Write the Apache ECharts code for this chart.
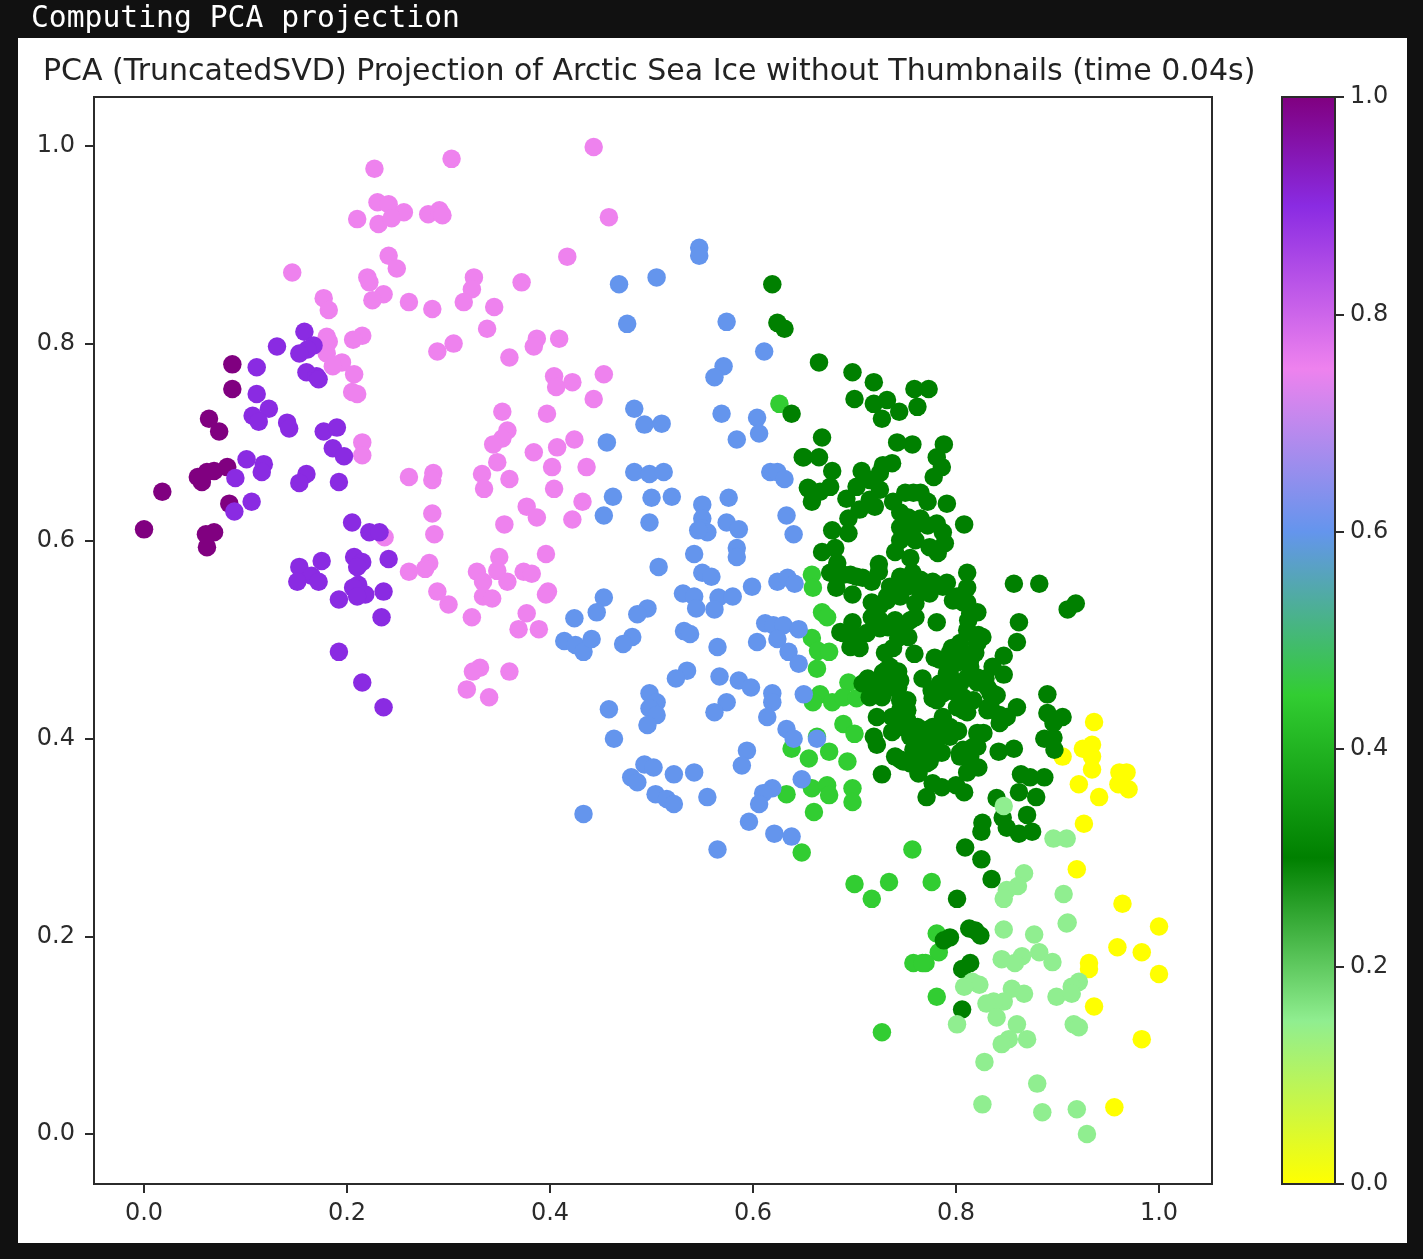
<!DOCTYPE html>
<html>
<head>
<meta charset="utf-8">
<title>PCA Projection</title>
<script src="https://cdn.jsdelivr.net/npm/echarts@6/dist/echarts.min.js"></script>
<style>
html,body{margin:0;padding:0;background:#111111;width:1423px;height:1259px;overflow:hidden}
#panel{position:absolute;left:18px;top:38px;width:1389px;height:1205px;background:#ffffff}
#chart{position:absolute;left:0;top:0;width:1423px;height:1259px;filter:blur(0.6px)}
</style>
</head>
<body>
<div id="panel"></div>
<div id="chart"></div>
<script>
const headerText = "Computing PCA projection";
const titleText = "PCA (TruncatedSVD) Projection of Arctic Sea Ice without Thumbnails (time 0.04s)";
const xTicks = [0,0.2,0.4,0.6,0.8,1.0];
const yTicks = [0,0.2,0.4,0.6,0.8,1.0];
const colorStops = [[0,"#ffff00"],[0.15,"#90ee90"],[0.3,"#008000"],[0.45,"#32cd32"],[0.6,"#6495ed"],[0.75,"#ee82ee"],[0.9,"#8a2be2"],[1,"#800080"]];

const yellowPts = [[.936,.417],[.905,.382],[.925,.390],[.934,.394],[.934,.382],[.934,.369],[.921,.354],[.941,.341],[.961,.366],[.968,.366],[.960,.354],[.970,.349],[.926,.314],[.919,.268],[.964,.233],[1.0,.210],[.959,.189],[.983,.184],[.931,.173],[.931,.167],[1.0,.162],[.936,.129],[.983,.096],[.956,.027]];

const limePts = [[.626,.739],[.658,.566],[.659,.553],[.668,.528],[.673,.523],[.658,.502],[.664,.489],[.675,.488],[.663,.471],[.694,.457],[.666,.445],[.659,.437],[.678,.437],[.689,.442],[.702,.441],[.689,.415],[.700,.405],[.663,.402],[.675,.387],[.655,.380],[.693,.377],[.658,.350],[.673,.353],[.675,.343],[.698,.350],[.698,.336],[.660,.326],[.638,.390],[.633,.344],[.648,.285],[.757,.288],[.700,.253],[.734,.255],[.717,.238],[.776,.255],[.781,.203],[.783,.184],[.758,.173],[.770,.173],[.767,.173],[.781,.139],[.727,.103]];

const greenPts = [[.619,.860],[.624,.821],[.631,.815],[.638,.729],[.649,.685],[.654,.654],[.665,.781],[.698,.771],[.719,.761],[.700,.744],[.759,.754],[.773,.754],[.732,.743],[.719,.739],[.762,.736],[.744,.731],[.727,.724],[.668,.705],[.650,.685],[.665,.685],[.678,.671],[.742,.700],[.757,.698],[.788,.698],[.781,.685],[.786,.675],[.778,.665],[.707,.671],[.737,.679],[.728,.677],[.655,.653],[.676,.655],[.666,.650],[.658,.640],[.702,.655],[.715,.662],[.725,.669],[.725,.652],[.692,.643],[.715,.642],[.720,.635],[.705,.632],[.694,.623],[.678,.611],[.694,.608],[.758,.649],[.750,.649],[.765,.649],[.772,.640],[.791,.638],[.738,.640],[.745,.629],[.753,.624],[.765,.623],[.781,.618],[.808,.617],[.745,.614],[.787,.609],[.752,.609],[.668,.589],[.681,.593],[.683,.578],[.676,.568],[.696,.566],[.682,.553],[.698,.546],[.708,.563],[.717,.559],[.724,.577],[.724,.569],[.740,.589],[.745,.601],[.758,.614],[.772,.616],[.789,.598],[.782,.588],[.774,.594],[.760,.601],[.755,.583],[.811,.568],[.811,.553],[.791,.558],[.777,.559],[.765,.561],[.757,.568],[.745,.564],[.740,.553],[.752,.554],[.732,.540],[.717,.538],[.720,.525],[.698,.518],[.686,.508],[.696,.503],[.705,.492],[.696,.493],[.712,.507],[.725,.512],[.740,.520],[.760,.523],[.781,.518],[.753,.503],[.743,.502],[.738,.492],[.730,.487],[.759,.486],[.765,.549],[.797,.540],[.807,.538],[.821,.528],[.812,.520],[.812,.508],[.822,.505],[.819,.487],[.804,.492],[.796,.492],[.779,.482],[.791,.480],[.804,.483],[.814,.480],[.847,.484],[.836,.473],[.847,.465],[.857,.557],[.882,.557],[.918,.537],[.910,.531],[.862,.518],[.860,.498],[.713,.461],[.708,.456],[.720,.446],[.732,.470],[.743,.468],[.730,.459],[.743,.452],[.727,.442],[.767,.461],[.779,.447],[.777,.441],[.794,.465],[.794,.449],[.804,.456],[.821,.457],[.829,.461],[.807,.442],[.801,.432],[.811,.427],[.834,.446],[.832,.432],[.840,.444],[.860,.432],[.850,.422],[.843,.416],[.827,.406],[.821,.392],[.812,.386],[.804,.386],[.752,.439],[.745,.429],[.722,.422],[.737,.422],[.737,.407],[.752,.419],[.762,.412],[.787,.422],[.786,.416],[.771,.409],[.802,.408],[.794,.402],[.719,.402],[.722,.394],[.765,.399],[.767,.389],[.784,.402],[.786,.386],[.740,.382],[.748,.377],[.760,.379],[.774,.377],[.727,.364],[.763,.365],[.811,.366],[.822,.371],[.842,.387],[.857,.390],[.890,.445],[.890,.426],[.905,.422],[.896,.416],[.887,.400],[.896,.401],[.897,.389],[.864,.364],[.873,.361],[.887,.361],[.862,.346],[.879,.341],[.777,.355],[.786,.351],[.771,.341],[.800,.353],[.808,.346],[.840,.340],[.870,.323],[.846,.320],[.826,.315],[.825,.306],[.850,.310],[.862,.304],[.875,.306],[.809,.290],[.825,.278],[.835,.258],[.801,.238],[.813,.208],[.819,.206],[.824,.201],[.794,.199],[.788,.196],[.814,.173],[.806,.167],[.806,.126],
[.683,.563],[.689,.566],[.702,.564],[.735,.554],[.745,.544],[.732,.544],[.725,.535],[.717,.523],[.725,.520],[.733,.513],[.745,.507],[.755,.520],[.760,.537],[.774,.547],[.787,.554],[.801,.544],[.811,.538],[.814,.527],[.811,.510],[.821,.497],[.826,.503],[.804,.497],[.794,.487],[.784,.480],[.801,.477],[.814,.473],[.811,.462],[.821,.462],[.831,.452],[.836,.446],[.791,.466],[.784,.456],[.776,.449],[.781,.439],[.787,.446],[.801,.446],[.817,.439],[.807,.429],[.834,.432],[.831,.429],[.843,.424],[.745,.439],[.752,.429],[.742,.419],[.748,.412],[.758,.412],[.755,.402],[.765,.402],[.777,.412],[.794,.412],[.784,.406],[.774,.392],[.781,.386],[.765,.386],[.758,.389],[.745,.379],[.755,.375],[.763,.371],[.771,.375],[.807,.389],[.817,.392],[.804,.382],[.821,.406],[.814,.382],[.712,.459],[.722,.452],[.715,.442],[.728,.446],[.738,.452],[.745,.459],[.728,.467],[.735,.473],[.698,.507],[.702,.497],[.689,.507]];

const lightPts = [[.847,.332],[.896,.299],[.909,.299],[.867,.264],[.861,.251],[.850,.247],[.847,.238],[.906,.243],[.910,.214],[.909,.213],[.847,.207],[.877,.202],[.882,.184],[.895,.174],[.845,.177],[.865,.180],[.858,.173],[.816,.154],[.823,.151],[.808,.149],[.921,.154],[.914,.149],[.899,.139],[.914,.142],[.855,.147],[.867,.142],[.847,.134],[.837,.134],[.830,.132],[.840,.118],[.801,.111],[.860,.111],[.916,.111],[.921,.108],[.870,.096],[.852,.096],[.845,.091],[.828,.073],[.880,.051],[.826,.030],[.885,.022],[.919,.025],[.929,0]];

const bluePts = [[.547,.897],[.547,.889],[.468,.860],[.505,.867],[.476,.820],[.574,.822],[.611,.792],[.571,.777],[.562,.766],[.483,.734],[.493,.718],[.510,.719],[.569,.729],[.604,.725],[.606,.709],[.584,.703],[.456,.700],[.483,.670],[.498,.668],[.512,.670],[.617,.670],[.624,.670],[.631,.663],[.462,.645],[.500,.644],[.520,.645],[.576,.644],[.550,.637],[.550,.623],[.550,.613],[.555,.609],[.546,.611],[.453,.626],[.498,.619],[.574,.619],[.586,.612],[.633,.626],[.640,.607],[.542,.587],[.584,.593],[.584,.584],[.507,.574],[.550,.568],[.559,.564],[.599,.554],[.624,.559],[.634,.563],[.641,.557],[.531,.547],[.542,.544],[.544,.532],[.566,.543],[.562,.531],[.580,.544],[.453,.543],[.446,.528],[.496,.532],[.486,.526],[.424,.522],[.414,.499],[.425,.495],[.433,.488],[.441,.501],[.481,.503],[.472,.496],[.532,.509],[.538,.506],[.565,.493],[.612,.517],[.620,.515],[.630,.515],[.645,.511],[.604,.498],[.624,.501],[.635,.488],[.645,.476],[.535,.469],[.524,.461],[.567,.463],[.586,.459],[.598,.452],[.619,.446],[.619,.437],[.498,.446],[.505,.437],[.498,.431],[.505,.424],[.496,.414],[.574,.437],[.562,.427],[.614,.422],[.650,.445],[.458,.430],[.463,.400],[.633,.410],[.640,.400],[.663,.400],[.594,.388],[.589,.373],[.493,.374],[.502,.371],[.480,.361],[.486,.356],[.522,.364],[.542,.366],[.504,.344],[.515,.339],[.522,.334],[.555,.341],[.648,.359],[.619,.350],[.610,.345],[.606,.334],[.596,.316],[.433,.324],[.621,.304],[.638,.301],[.565,.288]];

const violetPts = [[.227,.977],[.303,.987],[.443,.999],[.458,.928],[.230,.943],[.241,.941],[.256,.933],[.210,.926],[.231,.921],[.244,.927],[.280,.931],[.291,.935],[.294,.930],[.241,.889],[.249,.876],[.146,.872],[.220,.867],[.222,.862],[.236,.850],[.225,.844],[.261,.842],[.284,.835],[.177,.846],[.182,.834],[.289,.792],[.180,.807],[.182,.802],[.180,.790],[.215,.808],[.206,.804],[.195,.781],[.186,.777],[.207,.769],[.205,.751],[.210,.749],[.215,.700],[.215,.687],[.417,.888],[.325,.867],[.323,.855],[.315,.842],[.372,.862],[.345,.837],[.338,.815],[.305,.800],[.360,.786],[.387,.805],[.384,.797],[.409,.805],[.404,.767],[.422,.761],[.406,.756],[.453,.769],[.443,.744],[.353,.731],[.397,.729],[.358,.712],[.353,.704],[.344,.698],[.424,.703],[.407,.695],[.384,.690],[.348,.680],[.402,.675],[.436,.675],[.333,.668],[.360,.663],[.335,.653],[.404,.653],[.261,.665],[.285,.669],[.284,.662],[.284,.628],[.286,.607],[.377,.635],[.387,.624],[.355,.617],[.432,.640],[.422,.622],[.350,.584],[.396,.587],[.281,.578],[.277,.572],[.261,.569],[.328,.569],[.348,.570],[.374,.569],[.382,.567],[.334,.559],[.358,.559],[.289,.549],[.300,.536],[.398,.549],[.396,.546],[.334,.544],[.343,.542],[.323,.523],[.377,.527],[.369,.511],[.389,.511],[.331,.472],[.324,.468],[.360,.468],[.318,.450],[.340,.442],[.237,.604]];

const purplePts = [[.087,.779],[.087,.754],[.064,.724],[.074,.711],[.082,.675],[.069,.671],[.062,.670],[.057,.660],[.053,.665],[.018,.650],[.084,.638],[0,.612],[.069,.609],[.061,.607],[.062,.594]];

const violetBluePts = [[.158,.812],[.131,.797],[.111,.776],[.167,.798],[.161,.794],[.153,.790],[.160,.771],[.170,.767],[.172,.764],[.111,.749],[.123,.734],[.107,.727],[.113,.721],[.141,.720],[.143,.714],[.177,.711],[.190,.715],[.186,.694],[.197,.686],[.101,.683],[.118,.678],[.116,.670],[.090,.664],[.160,.668],[.153,.659],[.192,.660],[.106,.640],[.089,.630],[.205,.619],[.222,.609],[.232,.609],[.241,.582],[.207,.584],[.215,.579],[.210,.574],[.175,.580],[.153,.574],[.165,.565],[.172,.559],[.151,.559],[.211,.556],[.206,.553],[.218,.546],[.210,.544],[.236,.549],[.192,.541],[.234,.523],[.192,.488],[.215,.457],[.236,.432]];

const groups = [
  ["yellow", yellowPts, "#ffff00"],
  ["limegreen", limePts, "#32cd32"],
  ["green", greenPts, "#008000"],
  ["lightgreen", lightPts, "#90ee90"],
  ["cornflowerblue", bluePts, "#6495ed"],
  ["violet", violetPts, "#ee82ee"],
  ["purple", purplePts, "#800080"],
  ["blueviolet", violetBluePts, "#8a2be2"]
];

const inkColor = "#2b2b2b";
const fontFamily = "'DejaVu Sans'";
const fmt = v => Number(v).toFixed(1);

const chart = echarts.init(document.getElementById("chart"), null, {renderer:"canvas", width:1423, height:1259});
chart.setOption({
  animation:false,
  backgroundColor:"transparent",
  title:[
    {text:headerText,left:26,top:-1,textStyle:{color:"#ffffff",fontFamily:"'DejaVu Sans Mono'",fontWeight:"normal",fontSize:29.7}},
    {text:titleText,left:38,top:52,textStyle:{color:"#222222",fontFamily:fontFamily,fontWeight:"normal",fontSize:30}}
  ],
  grid:[
    {left:94,top:97,width:1118,height:1087,show:true,borderColor:inkColor,borderWidth:2,backgroundColor:"transparent"},
    {left:1282,top:97,width:53,height:1087,show:true,borderColor:inkColor,borderWidth:2,backgroundColor:"transparent",z:5}
  ],
  xAxis:[
    {type:"value",gridIndex:0,min:-0.0493,max:1.0522,splitLine:{show:false},
     axisLine:{show:true,onZero:false,lineStyle:{color:inkColor,width:2}},
     axisTick:{show:true,length:9,customValues:xTicks,lineStyle:{color:inkColor,width:2}},
     axisLabel:{show:true,customValues:xTicks,formatter:fmt,margin:18,color:inkColor,fontSize:24,fontFamily:fontFamily}},
    {type:"category",gridIndex:1,data:["c"],boundaryGap:true,show:false}
  ],
  yAxis:[
    {type:"value",gridIndex:0,min:-0.0506,max:1.0496,splitLine:{show:false},
     axisLine:{show:true,onZero:false,lineStyle:{color:inkColor,width:2}},
     axisTick:{show:true,length:9,customValues:yTicks,lineStyle:{color:inkColor,width:2}},
     axisLabel:{show:true,customValues:yTicks,formatter:fmt,margin:19,padding:[4,0,0,0],color:inkColor,fontSize:24,fontFamily:fontFamily}},
    {type:"value",gridIndex:1,position:"right",min:0,max:1,interval:0.2,splitLine:{show:false},
     axisLine:{show:true,lineStyle:{color:inkColor,width:2}},
     axisTick:{show:true,length:9,lineStyle:{color:inkColor,width:2}},
     axisLabel:{show:true,formatter:fmt,margin:15,padding:[4,0,0,0],color:inkColor,fontSize:24,fontFamily:fontFamily}}
  ],
  series:groups.map(g=>({
    name:g[0],type:"scatter",xAxisIndex:0,yAxisIndex:0,data:g[1],symbol:"circle",symbolSize:18.5,
    itemStyle:{color:g[2],opacity:1},silent:true
  })).concat([{
    name:"colorbar",type:"bar",xAxisIndex:1,yAxisIndex:1,data:[1],barWidth:"100%",silent:true,
    itemStyle:{color:new echarts.graphic.LinearGradient(0,1,0,0,colorStops.map(s=>({offset:s[0],color:s[1]})))}
  }])
});
</script>
</body>
</html>
